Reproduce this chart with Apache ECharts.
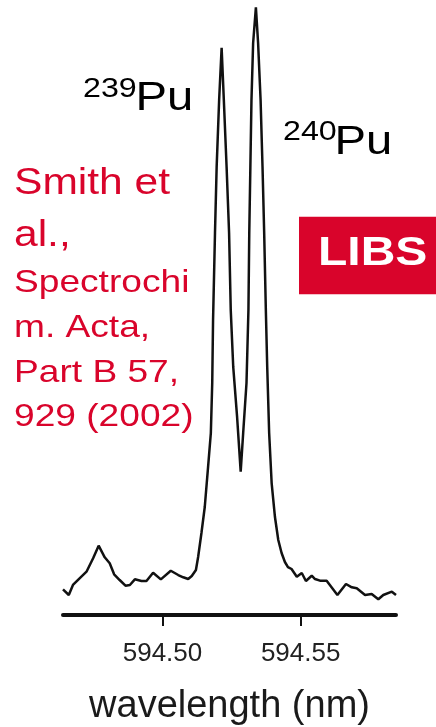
<!DOCTYPE html>
<html>
<head>
<meta charset="utf-8">
<title>Pu LIBS spectrum</title>
<script src="https://cdn.jsdelivr.net/npm/echarts@6/dist/echarts.min.js"></script>
<style>
    html, body { margin: 0; padding: 0; background: #fff; }
    #chart { width: 436px; height: 727px; }
</style>
</head>
<body>
<div id="chart"></div>
<script>
// spectrum (intensity in arbitrary units, 0-100)
const wavelength = [
    594.4640, 594.4661, 594.4676, 594.4700, 594.4725, 594.4749, 594.4769, 594.4791, 594.4809, 594.4825,
    594.4845, 594.4866, 594.4882, 594.4900, 594.4924, 594.4942, 594.4966, 594.4994, 594.5030, 594.5057,
    594.5075, 594.5093, 594.5106, 594.5121, 594.5129, 594.5141, 594.5153, 594.5165, 594.5175, 594.5180,
    594.5183, 594.5190, 594.5196, 594.5205, 594.5214, 594.5222, 594.5232, 594.5241, 594.5247, 594.5256,
    594.5270, 594.5283, 594.5292, 594.5304, 594.5311, 594.5314, 594.5318, 594.5322, 594.5328, 594.5338,
    594.5346, 594.5355, 594.5362, 594.5368, 594.5374, 594.5379, 594.5386, 594.5395, 594.5407, 594.5419,
    594.5431, 594.5443, 594.5454, 594.5467, 594.5486, 594.5504, 594.5519, 594.5540, 594.5552, 594.5570,
    594.5594, 594.5633, 594.5664, 594.5685, 594.5703, 594.5733, 594.5757, 594.5781, 594.5799, 594.5830,
    594.5845
];
const intensity = [
    4.18, 3.25, 4.88, 5.97, 7.04, 9.22, 11.27, 9.38, 8.41, 6.62,
    5.69, 4.76, 4.88, 5.80, 5.53, 5.53, 6.88, 5.80, 7.20, 6.50,
    6.13, 5.85, 6.34, 7.32, 9.43, 13.33, 17.56, 24.07, 29.59, 37.72,
    47.97, 62.11, 72.85, 83.74, 92.24, 83.74, 72.85, 62.11, 49.59, 40.33,
    32.20, 23.30, 29.59, 37.72, 49.59, 62.11, 72.85, 83.74, 93.01, 98.81,
    93.01, 83.74, 72.85, 62.11, 49.59, 40.33, 29.59, 21.46, 15.93, 12.20,
    10.08, 8.62, 7.80, 7.48, 6.23, 6.83, 5.53, 6.39, 5.85, 5.58,
    5.58, 3.25, 5.04, 4.50, 4.34, 3.25, 3.41, 2.55, 3.25, 3.79,
    3.25
];
const xRange = [594.4640, 594.5845];
const tickValues = [594.50, 594.55];
const axisTitle = 'wavelength (nm)';
const citeTop = ['Smith et', 'al.,'];
const citeRest = ['Spectrochi', 'm. Acta,', 'Part B 57,', '929 (2002)'];
const peakLabels = [
    { mass: '239', name: 'Pu' },
    { mass: '240', name: 'Pu' }
];
const badgeText = 'LIBS';

const RED = '#D9042B';
const FONT = '"Liberation Sans", Arial, Helvetica, sans-serif';

function txt(x, y, text, size, color, opts) {
    opts = opts || {};
    return {
        type: 'text',
        x: x,
        y: y,
        scaleX: opts.sx || 1,
        silent: true,
        style: {
            text: text,
            fill: color,
            fontSize: size,
            fontFamily: FONT,
            fontWeight: opts.bold ? 'bold' : 'normal',
            lineHeight: opts.lh,
            align: 'left',
            verticalAlign: opts.va || 'middle',
            textAlign: 'left',
            textVerticalAlign: opts.va || 'middle'
        }
    };
}

function PaintChart() {
    const chart = echarts.init(document.getElementById('chart'), null, { renderer: 'canvas' });

    const points = wavelength.map((w, i) => [w, intensity[i]]);

    const option = {
        backgroundColor: '#fff',
        animation: false,
        grid: {
            left: 63,
            right: 40,
            top: 0,
            bottom: 112,
            containLabel: false,
            outerBoundsMode: 'none'
        },
        xAxis: {
            type: 'value',
            min: xRange[0],
            max: xRange[1],
            name: axisTitle,
            nameLocation: 'middle',
            nameGap: 73,
            nameTextStyle: {
                fontSize: 38,
                fontFamily: FONT,
                color: '#1a1a1a'
            },
            splitLine: { show: false },
            axisLine: {
                onZero: false,
                lineStyle: { color: '#111', width: 4 }
            },
            axisTick: {
                show: true,
                customValues: tickValues,
                length: 11,
                lineStyle: { color: '#111', width: 2 }
            },
            axisLabel: {
                customValues: tickValues,
                margin: 26,
                fontSize: 26,
                fontFamily: FONT,
                color: '#222',
                formatter: v => v.toFixed(2)
            }
        },
        yAxis: {
            type: 'value',
            min: 0,
            max: 100,
            show: false
        },
        series: [
            {
                type: 'line',
                data: points,
                showSymbol: false,
                smooth: false,
                clip: true,
                lineStyle: { color: '#111', width: 2.5 }
            }
        ],
        graphic: [
            // isotope labels
            txt(83, 89.6, peakLabels[0].mass, 28, '#000', { sx: 1.15 }),
            txt(135.5, 99.1, peakLabels[0].name, 41, '#000', { sx: 1.15 }),
            txt(283, 132, peakLabels[1].mass, 28, '#000', { sx: 1.15 }),
            txt(334.5, 142.5, peakLabels[1].name, 41, '#000', { sx: 1.15 }),
            // reference in red
            txt(14, 157.2, citeTop.join('\n'), 37, RED, { sx: 1.15, lh: 52.6, va: 'top' }),
            txt(14, 261.2, citeRest.join('\n'), 32, RED, { sx: 1.16, lh: 44.7, va: 'top' }),
            // LIBS badge
            {
                type: 'rect',
                silent: true,
                shape: { x: 299, y: 216.7, width: 137, height: 77.6 },
                style: { fill: RED }
            },
            txt(318, 254.4, badgeText, 40, '#fff', { sx: 1.2, bold: true })
        ]
    };

    chart.setOption(option);
}

PaintChart();
</script>
</body>
</html>
